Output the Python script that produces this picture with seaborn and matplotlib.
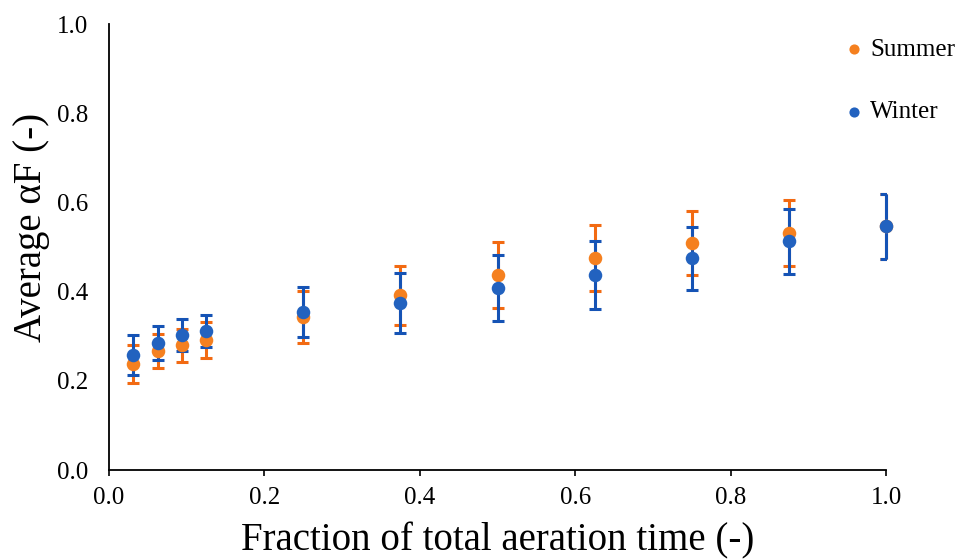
import numpy as np
import pandas as pd
import seaborn as sns
import matplotlib.pyplot as plt

# fraction of total aeration time
frac = [1/32, 2/32, 3/32, 4/32, 8/32, 12/32, 16/32, 20/32, 24/32, 28/32, 1.0]

summer_mean = [0.238, 0.267, 0.280, 0.291, 0.343, 0.392, 0.437, 0.475, 0.509, 0.531, 0.547]
summer_err = [0.043, 0.038, 0.037, 0.040, 0.058, 0.066, 0.074, 0.074, 0.071, 0.074, 0.073]
winter_mean = [0.258, 0.285, 0.303, 0.312, 0.354, 0.374, 0.408, 0.437, 0.475, 0.513, 0.547]
winter_err = [0.044, 0.038, 0.036, 0.036, 0.056, 0.067, 0.074, 0.076, 0.071, 0.073, 0.073]

seasons = ['Summer', 'Winter']
marker_colors = {'Summer': '#F5801F', 'Winter': '#2262BF'}
bar_colors = {'Summer': '#F26A12', 'Winter': '#1553B5'}

data = pd.concat([
    pd.DataFrame({'frac': frac, 'aF': summer_mean, 'err': summer_err, 'season': 'Summer'}),
    pd.DataFrame({'frac': frac, 'aF': winter_mean, 'err': winter_err, 'season': 'Winter'}),
])

sns.set_style('white', {'text.color': 'black', 'axes.labelcolor': 'black',
                        'xtick.color': 'black', 'ytick.color': 'black'})
plt.rcParams['font.family'] = ['Liberation Serif', 'DejaVu Serif']

fig, ax = plt.subplots(figsize=(9.56, 5.59), dpi=100)
fig.subplots_adjust(left=0.114, right=0.927, bottom=0.159, top=0.957)

for s in seasons:
    d = data[data['season'] == s]
    eb = ax.errorbar(d['frac'], d['aF'], yerr=d['err'], fmt='none', ecolor=bar_colors[s],
                     elinewidth=2.2, capsize=4, capthick=2.2, zorder=2)
    # vertical bars drawn whole, caps clipped at the plot edge
    for col in eb.lines[2]:
        col.set_clip_on(False)
    sns.scatterplot(x='frac', y='aF', data=d, color=marker_colors[s], s=95,
                    edgecolor=marker_colors[s], linewidth=0, ax=ax, zorder=3,
                    label=s, clip_on=False)

ax.set_xlim(0, 1.0)
ax.set_ylim(0, 1.0)
ax.set_xticks(np.arange(0, 1.01, 0.2))
ax.set_yticks(np.arange(0, 1.01, 0.2))
ax.xaxis.set_major_formatter(plt.FormatStrFormatter('%.1f'))
ax.yaxis.set_major_formatter(plt.FormatStrFormatter('%.1f'))
ax.tick_params(axis='x', which='major', labelsize=18, length=4, width=1.2,
               direction='out', bottom=True, pad=8, colors='black')
ax.tick_params(axis='y', which='major', labelsize=18, length=0, pad=15, colors='black')

for side in ['top', 'right']:
    ax.spines[side].set_visible(False)
for side in ['left', 'bottom']:
    ax.spines[side].set_color('black')
    ax.spines[side].set_linewidth(1.3)

ax.set_xlabel('Fraction of total aeration time (-)', fontsize=28, labelpad=10, color='black')
ax.set_ylabel('Average αF (-)', fontsize=28, color='black')
ax.yaxis.set_label_coords(-0.076, 0.545)

leg = ax.legend(loc='upper left', bbox_to_anchor=(0.872, 0.954), bbox_transform=fig.transFigure,
                frameon=False, fontsize=18, labelspacing=1.6, handlelength=0.6,
                handletextpad=0.35, markerscale=0.75, borderpad=0, labelcolor='black')

fig.savefig('out.png', dpi=100)
